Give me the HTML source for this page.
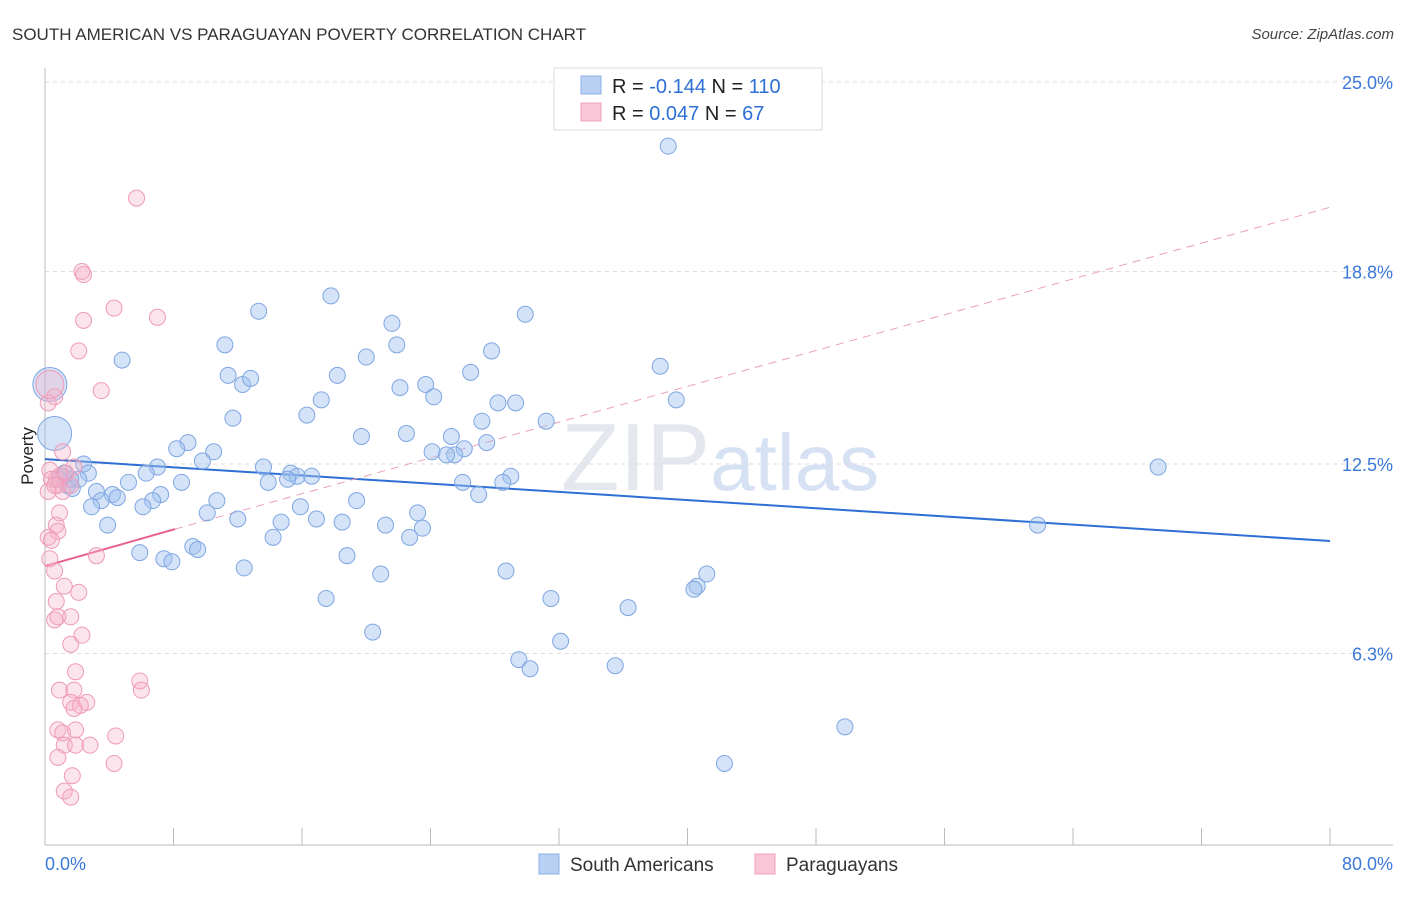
<!DOCTYPE html>
<html><head><meta charset="utf-8"><style>
body{margin:0;background:#fff;font-family:"Liberation Sans",sans-serif}
svg text{font-family:"Liberation Sans",sans-serif}
</style></head><body>
<svg id="chart" width="1406" height="892" viewBox="0 0 1406 892" xmlns="http://www.w3.org/2000/svg">
<text x="12" y="40" font-size="17" fill="#333">SOUTH AMERICAN VS PARAGUAYAN POVERTY CORRELATION CHART</text>
<text x="1394" y="39" font-size="15" fill="#444" font-style="italic" text-anchor="end">Source: ZipAtlas.com</text>
<text x="720" y="490" font-size="96" text-anchor="middle" fill="#e4e8ee" font-family="Liberation Serif"><tspan>ZIP</tspan><tspan fill="#d6e2f4" font-family="Liberation Sans" font-size="80">atlas</tspan></text>
<g id="grid"></g>
<g id="axes"></g>
<g id="lines"></g>
<g id="pts"></g>
<text transform="translate(33,456) rotate(-90)" font-size="17" fill="#222" text-anchor="middle">Poverty</text>
<g>
<rect x="554" y="68" width="268" height="62" fill="#fff" stroke="#ddd"/>
<rect x="581" y="76" width="20" height="18" fill="#b8d0f2" stroke="#8ab0e8"/>
<rect x="581" y="103" width="20" height="18" fill="#f8c6d6" stroke="#f0a0bc"/>
<text x="612" y="93" font-size="20" fill="#222">R = <tspan fill="#2e6fd6">-0.144</tspan>   N = <tspan fill="#2e6fd6">110</tspan></text>
<text x="612" y="120" font-size="20" fill="#222">R =  <tspan fill="#2e6fd6">0.047</tspan>   N =   <tspan fill="#2e6fd6">67</tspan></text>
</g>
<g>
<rect x="539" y="854" width="20" height="20" fill="#b8d0f2" stroke="#8ab0e8"/>
<text x="570" y="871" font-size="19" fill="#333">South Americans</text>
<rect x="755" y="854" width="20" height="20" fill="#f8c6d6" stroke="#f0a0bc"/>
<text x="786" y="871" font-size="19" fill="#333">Paraguayans</text>
</g>
</svg>
<script>
const yTicks=[25.0,18.8,12.5,6.3];
const yTickLabels=["25.0%","18.8%","12.5%","6.3%"];
const xTicks=[0,8,16,24,32,40,48,56,64,72,80];
const xLabels=["0.0%","80.0%"];
const blueX=[38.8,13.3,17.8,21.6,29.9,4.8,11.2,20.0,21.9,27.8,38.3,11.4,12.3,12.8,18.2,22.1,23.7,24.2,26.5,39.3,17.2,16.3,28.2,29.3,11.7,31.2,19.7,22.5,25.3,27.2,27.5,24.1,26.1,25.5,25.0,8.9,8.2,10.5,9.8,7.0,6.3,13.6,15.3,15.7,16.6,15.1,13.9,8.5,29.0,28.5,26.0,27.0,69.3,61.8,2.4,2.7,1.4,1.7,3.2,2.1,4.2,4.5,5.2,3.5,7.2,6.7,6.1,2.9,10.7,19.4,15.9,3.9,10.1,12.0,14.7,16.9,18.5,21.2,23.2,23.5,22.7,14.2,5.9,9.2,9.5,7.4,7.9,18.8,12.4,20.9,28.7,41.2,40.6,40.4,17.5,31.5,36.3,20.4,32.1,29.5,30.2,35.5,49.8,42.3,1.1,1.6,0.9,1.2,0.3,0.6];
const blueY=[22.9,17.5,18.0,17.1,17.4,15.9,16.4,16.0,16.4,16.2,15.7,15.4,15.1,15.3,15.4,15.0,15.1,14.7,15.5,14.6,14.6,14.1,14.5,14.5,14.0,13.9,13.4,13.5,13.4,13.9,13.2,12.9,13.0,12.8,12.8,13.2,13.0,12.9,12.6,12.4,12.2,12.4,12.2,12.1,12.1,12.0,11.9,11.9,12.1,11.9,11.9,11.5,12.4,10.5,12.5,12.2,11.8,11.7,11.6,12.0,11.5,11.4,11.9,11.3,11.5,11.3,11.1,11.1,11.3,11.3,11.1,10.5,10.9,10.7,10.6,10.7,10.6,10.5,10.9,10.4,10.1,10.1,9.6,9.8,9.7,9.4,9.3,9.5,9.1,8.9,9.0,8.9,8.5,8.4,8.1,8.1,7.8,7.0,6.7,6.1,5.8,5.9,3.9,2.7,12.1,12.0,12.0,12.2,15.1,13.5];
const blueSize=[];for(let i=0;i<blueX.length;i++)blueSize.push(i>=blueX.length-2?17:8);
const pinkX=[5.7,2.3,2.4,4.3,7.0,2.4,2.1,3.5,0.6,0.2,1.1,0.3,1.8,0.7,0.9,0.4,1.3,0.8,0.2,1.1,1.6,0.6,0.9,0.7,0.8,0.2,0.4,3.2,0.3,0.6,1.2,2.1,0.7,0.6,1.6,0.8,2.3,1.6,1.9,5.9,6.0,0.9,1.8,1.6,2.6,2.2,1.8,0.8,1.1,1.9,4.4,1.2,1.9,2.8,0.8,4.3,1.7,1.2,1.6,0.3];
const pinkY=[21.2,18.8,18.7,17.6,17.3,17.2,16.2,14.9,14.7,14.5,12.9,12.3,12.4,12.0,12.1,12.0,12.2,11.8,11.6,11.6,11.8,11.8,10.9,10.5,10.3,10.1,10.0,9.5,9.4,9.0,8.5,8.3,8.0,7.4,7.5,7.5,6.9,6.6,5.7,5.4,5.1,5.1,5.1,4.7,4.7,4.6,4.5,3.8,3.7,3.8,3.6,3.3,3.3,3.3,2.9,2.7,2.3,1.8,1.6,15.1];
const pinkSize=[];for(let i=0;i<pinkX.length;i++)pinkSize.push(i===pinkX.length-1?14:8);
const blueTrendX=[0,80],blueTrendY=[12.66,9.98];
const pinkTrendX=[0,8.1],pinkTrendY=[9.16,10.37];
const pinkDashX=[8.1,80],pinkDashY=[10.37,20.9];

const X=v=>45+v*1285/80;
const Y=v=>846-v*30.56;
const NS="http://www.w3.org/2000/svg";
function mk(p,t,a){const e=document.createElementNS(NS,t);for(const k in a)e.setAttribute(k,a[k]);p.appendChild(e);return e;}
const grid=document.getElementById('grid'),axes=document.getElementById('axes'),lines=document.getElementById('lines'),pts=document.getElementById('pts');
yTicks.forEach((t,i)=>{
 const l=mk(grid,'line',{x1:45,x2:1393,y1:Y(t),y2:Y(t),stroke:'#ddd','stroke-dasharray':'4,4'});
 
 
 const tx=mk(axes,'text',{x:1393,y:Y(t)+7,'font-size':18,fill:'#3b78d8','text-anchor':'end'});
 tx.textContent=yTickLabels[i];
 
 
});
const ax=mk(axes,'line',{x1:45,x2:45,y1:68,y2:845,stroke:'#bbb'});


const bx=mk(axes,'line',{x1:45,x2:1393,y1:845,y2:845,stroke:'#bbb'});


xTicks.forEach(t=>{
 const l=mk(axes,'line',{x1:X(t),x2:X(t),y1:828,y2:845,stroke:'#bbb'});
 
 
});
[[0,'start',45],[80,'end',1393]].forEach((d,i)=>{
 const tx=mk(axes,'text',{x:d[2],y:870,'font-size':18,fill:'#3b78d8','text-anchor':d[1]});
 tx.textContent=xLabels[i];
 
 
});
for(let i=0;i<blueX.length;i++){
 const c=mk(pts,'circle',{cx:X(blueX[i]),cy:Y(blueY[i]),r:blueSize[i],fill:'rgba(160,192,238,0.45)',stroke:'#7fa6e3','stroke-width':1});
 
 
}
for(let i=0;i<pinkX.length;i++){
 const c=mk(pts,'circle',{cx:X(pinkX[i]),cy:Y(pinkY[i]),r:pinkSize[i],fill:'rgba(246,178,200,0.35)',stroke:'#ee9ab7','stroke-width':1});
 
 
}
const bt=mk(lines,'line',{x1:X(blueTrendX[0]),y1:Y(blueTrendY[0]),x2:X(blueTrendX[1]),y2:Y(blueTrendY[1]),stroke:'#2e6fd6','stroke-width':2});


const pd=mk(lines,'line',{x1:X(pinkDashX[0]),y1:Y(pinkDashY[0]),x2:X(pinkDashX[1]),y2:Y(pinkDashY[1]),stroke:'#eba0b8','stroke-width':1,'stroke-dasharray':'8,6'});


const pt=mk(lines,'line',{x1:X(pinkTrendX[0]),y1:Y(pinkTrendY[0]),x2:X(pinkTrendX[1]),y2:Y(pinkTrendY[1]),stroke:'#e8608a','stroke-width':2});


</script>
</body></html>
